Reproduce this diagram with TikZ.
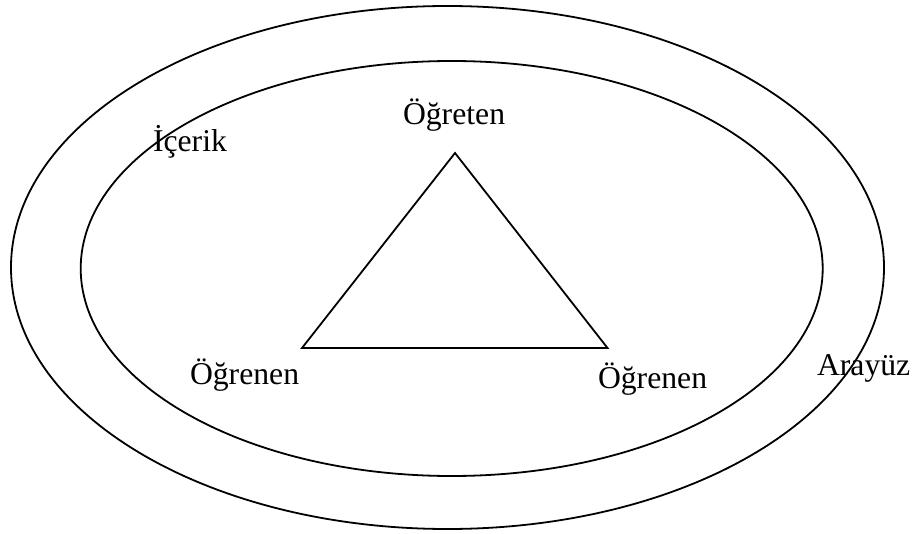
\documentclass[tikz,border=0pt]{standalone}
\usepackage{fontspec}
\setmainfont{Liberation Serif}
\begin{document}
\begin{tikzpicture}[x=1pt,y=-1pt,
  line/.style={line width=1.8pt, black},
  lbl/.style={anchor=base west, inner sep=0pt, outer sep=0pt, font=\fontsize{31.7}{38}\selectfont}]
\useasboundingbox (0,0) rectangle (912,534);
\draw[line] (447.5,267.5) ellipse [x radius=436.5pt, y radius=261.5pt];
\draw[line] (451.7,268.5) ellipse [x radius=371pt, y radius=207.5pt];
\coordinate (top) at (455,153);
\coordinate (bl) at (302,348);
\coordinate (br) at (607.5,348);
\draw[line, line join=miter] (top) -- (br) -- (bl) -- cycle;
\node[lbl] (ogreten) at (403,125) {Öğreten};
\node[lbl] (icerik) at (153,152) {İçerik};
\node[lbl] (ogrenenL) at (190,384) {Öğrenen};
\node[lbl] (ogrenenR) at (598,388) {Öğrenen};
\node[lbl] (arayuz) at (817,375) {Arayüz};
\end{tikzpicture}
\end{document}
